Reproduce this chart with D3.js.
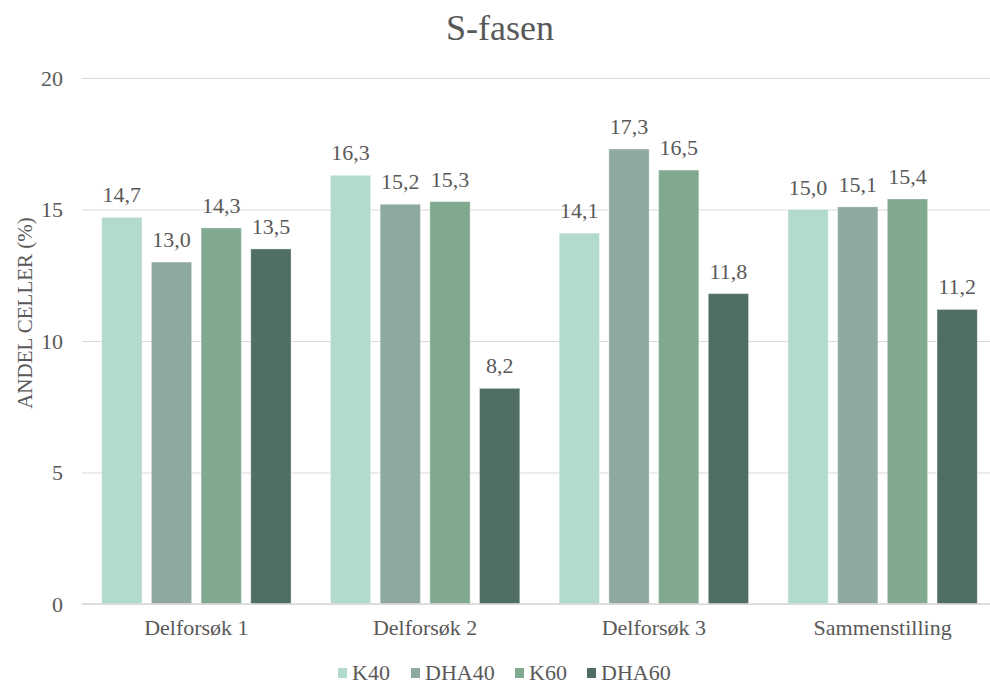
<!DOCTYPE html>
<html>
<head>
<meta charset="utf-8">
<script src="https://cdn.jsdelivr.net/npm/d3@7"></script>
</head>
<body style="margin:0;background:#fff">
<svg id="chart" width="990" height="685" style="display:block;font-family:'Liberation Serif',serif"></svg>
<script>
// Andel celler i S-fasen per delforsøk
const categories = ["Delforsøk 1", "Delforsøk 2", "Delforsøk 3", "Sammenstilling"];
const seriesNames = ["K40", "DHA40", "K60", "DHA60"];
const K40   = [14.7, 16.3, 14.1, 15.0];
const DHA40 = [13.0, 15.2, 17.3, 15.1];
const K60   = [14.3, 15.3, 16.5, 15.4];
const DHA60 = [13.5, 8.2, 11.8, 11.2];
const yTicks = [0, 5, 10, 15, 20];
const colors = ["#b2dbcc", "#8ea99d", "#80a990", "#506e63"];

const FONT = "Liberation Serif, serif";
const seriesValues = [K40, DHA40, K60, DHA60];
const rows = categories.map((c, i) => ({
  category: c,
  values: seriesNames.map((s, j) => ({ series: s, value: seriesValues[j][i] }))
}));

const svg = d3.select("#chart");
const fmt = v => v.toFixed(1).replace(".", ",");
const textColor = "#595959";

const x0 = d3.scaleBand().domain(categories).range([82, 997]).padding(0);
const groupPad = 19.7;
const x1 = d3.scaleBand().domain(seriesNames)
  .range([groupPad, x0.bandwidth() - groupPad])
  .paddingInner(0.19).paddingOuter(0);
const y = d3.scaleLinear().domain([0, 20]).range([604, 78]);
const color = d3.scaleOrdinal().domain(seriesNames).range(colors);

// gridlines and tick labels
const yAxis = d3.axisLeft(y).tickValues(yTicks).tickSize(-(997 - 82)).tickPadding(19)
  .tickFormat(d3.format("d"));
const gy = svg.append("g").attr("transform", "translate(82,0)").call(yAxis);
gy.select(".domain").remove();
gy.selectAll(".tick line").attr("stroke", "#d9d9d9").attr("stroke-width", 1);
gy.selectAll(".tick text").attr("fill", textColor)
  .style("font-family", FONT).style("font-size", "22px");

// bars
const groups = svg.append("g").selectAll("g").data(rows).join("g")
  .attr("transform", d => `translate(${x0(d.category)},0)`);
groups.selectAll("rect").data(d => d.values).join("rect")
  .attr("x", d => x1(d.series))
  .attr("width", x1.bandwidth())
  .attr("y", d => y(d.value))
  .attr("height", d => y(0) - y(d.value))
  .attr("fill", d => color(d.series))
  .attr("stroke", "#ffffff").attr("stroke-opacity", 0.35).attr("stroke-width", 1);

// value labels
groups.selectAll("text.val").data(d => d.values).join("text")
  .attr("class", "val")
  .attr("x", d => x1(d.series) + x1.bandwidth() / 2)
  .attr("y", d => y(d.value) - 15)
  .attr("text-anchor", "middle")
  .attr("fill", textColor)
  .style("font-family", FONT).style("font-size", "22px")
  .text(d => fmt(d.value));

// x-axis baseline
svg.append("line").attr("x1", 82).attr("x2", 997).attr("y1", y(0)).attr("y2", y(0))
  .attr("stroke", "#d9d9d9").attr("stroke-width", 1.5);

// category labels
svg.append("g").selectAll("text").data(categories).join("text")
  .attr("x", d => x0(d) + x0.bandwidth() / 2)
  .attr("y", 635)
  .attr("text-anchor", "middle")
  .attr("fill", textColor)
  .style("font-family", FONT).style("font-size", "22px")
  .text(d => d);

// title
svg.append("text").attr("x", 500).attr("y", 40).attr("text-anchor", "middle")
  .attr("fill", textColor)
  .style("font-family", FONT).style("font-size", "36px")
  .text("S-fasen");

// y-axis title
svg.append("text").attr("transform", "translate(32,313) rotate(-90)")
  .attr("text-anchor", "middle").attr("fill", textColor)
  .style("font-family", FONT).style("font-size", "21px")
  .text("ANDEL CELLER (%)");

// legend
const legendX = [338, 411, 515, 587];
const legend = svg.append("g").selectAll("g").data(seriesNames).join("g")
  .attr("transform", (d, i) => `translate(${legendX[i]},668)`);
legend.append("rect").attr("width", 9).attr("height", 10).attr("fill", d => color(d));
legend.append("text").attr("x", 14).attr("y", 12).attr("fill", textColor)
  .style("font-family", FONT).style("font-size", "22px")
  .text(d => d);
</script>
</body>
</html>
